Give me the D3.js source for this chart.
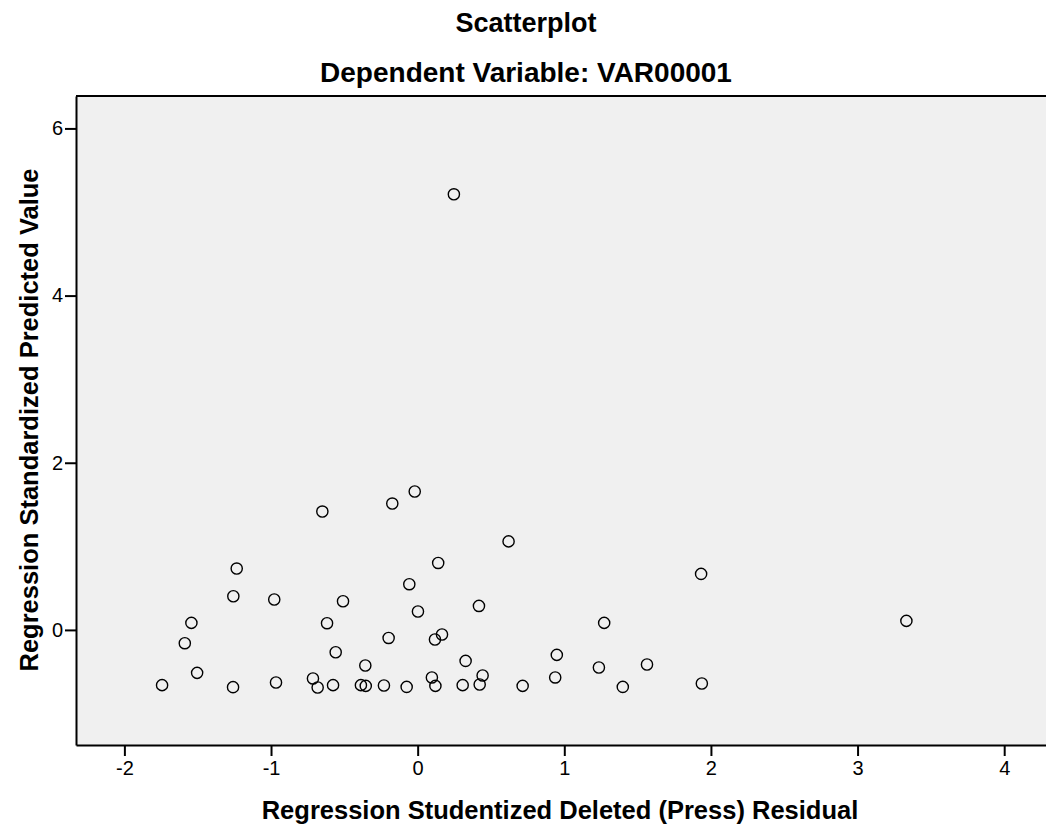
<!DOCTYPE html>
<html lang="en">
<head>
    <meta charset="UTF-8">
    <title>Scatterplot</title>
    <script src="https://d3js.org/d3.v7.min.js"></script>
    <style>
        body {
            margin: 0;
            background: #fff;
            font-family: Arial, "Liberation Sans", sans-serif;
        }
        svg { display: block; }
        .title { font-size: 27px; font-weight: bold; }
        .title.sub { font-size: 28px; }
        .axis-label { font-size: 25.5px; font-weight: bold; }
        .tick text { font-size: 20px; font-family: Arial, "Liberation Sans", sans-serif; fill: #000; }
        .dot { fill: none; stroke: #000; stroke-width: 1.4; }
    </style>
</head>
<body>
    <svg id="chart"></svg>
    <script>
        // residuals (x) and predicted values (y)
        const residuals = [
            -1.743, -1.588, -1.543, -1.504, -1.259, -1.257, -1.234, -0.978, -0.966, -0.714,
            -0.682, -0.650, -0.618, -0.577, -0.559, -0.509, -0.387, -0.357, -0.354, -0.230,
            -0.198, -0.173, -0.075, -0.057, -0.020, 0.002, 0.097, 0.118, 0.121, 0.140,
            0.166, 0.247, 0.307, 0.327, 0.418, 0.423, 0.443, 0.620, 0.716, 0.938,
            0.949, 1.236, 1.272, 1.399, 1.564, 1.933, 1.938, 3.333
        ];
        const predicted = [
            -0.661, -0.159, 0.084, -0.514, -0.685, 0.403, 0.734, 0.364, -0.629, -0.581,
            -0.689, 1.416, 0.080, -0.661, -0.267, 0.343, -0.661, -0.426, -0.670, -0.665,
            -0.096, 1.512, -0.682, 0.547, 1.656, 0.220, -0.569, -0.115, -0.670, 0.801,
            -0.055, 5.212, -0.661, -0.371, 0.287, -0.653, -0.545, 1.059, -0.670, -0.569,
            -0.299, -0.450, 0.084, -0.682, -0.414, 0.670, -0.641, 0.108
        ];
        const xTicks = [-2, -1, 0, 1, 2, 3, 4];
        const yTicks = [0, 2, 4, 6];

        const width = 1046, height = 825;
        const plotLeft = 76, plotTop = 96, plotRight = 1052, plotBottom = 745;

        const svg = d3.select("#chart")
            .attr("width", width)
            .attr("height", height);

        const x = d3.scaleLinear().domain([-2.33, 4.326]).range([plotLeft, plotRight]);
        const y = d3.scaleLinear().domain([-1.377, 6.388]).range([plotBottom, plotTop]);

        svg.append("rect")
            .attr("x", plotLeft).attr("y", plotTop)
            .attr("width", plotRight - plotLeft).attr("height", plotBottom - plotTop)
            .attr("fill", "#f0f0f0");

        // top border
        svg.append("line")
            .attr("x1", plotLeft).attr("x2", plotRight)
            .attr("y1", plotTop).attr("y2", plotTop)
            .attr("stroke", "#000").attr("stroke-width", 2);

        const xAxis = svg.append("g")
            .attr("transform", `translate(0,${plotBottom})`)
            .call(d3.axisBottom(x).tickValues(xTicks).tickSize(11).tickSizeOuter(0).tickPadding(5));
        const yAxis = svg.append("g")
            .attr("transform", `translate(${plotLeft},0)`)
            .call(d3.axisLeft(y).tickValues(yTicks).tickSize(11).tickSizeOuter(0).tickPadding(2));

        [xAxis, yAxis].forEach(a => {
            a.select(".domain").attr("stroke", "#000").attr("stroke-width", 2);
            a.selectAll(".tick line").attr("stroke", "#000").attr("stroke-width", 2);
        });
        // plain hyphen minus like the original
        svg.selectAll(".tick text").text(d => String(d));

        svg.selectAll(".dot")
            .data(residuals.map((r, i) => [r, predicted[i]]))
            .enter().append("circle")
            .attr("class", "dot")
            .attr("cx", d => x(d[0]))
            .attr("cy", d => y(d[1]))
            .attr("r", 5.6);

        svg.append("text").attr("class", "title")
            .attr("x", 526).attr("y", 32)
            .attr("text-anchor", "middle")
            .text("Scatterplot");
        svg.append("text").attr("class", "title sub")
            .attr("x", 526).attr("y", 82)
            .attr("text-anchor", "middle")
            .text("Dependent Variable: VAR00001");

        svg.append("text").attr("class", "axis-label")
            .attr("x", 560).attr("y", 819)
            .attr("text-anchor", "middle")
            .text("Regression Studentized Deleted (Press) Residual");
        svg.append("text").attr("class", "axis-label")
            .attr("transform", "translate(38,420) rotate(-90)")
            .attr("text-anchor", "middle")
            .text("Regression Standardized Predicted Value");
    </script>
</body>
</html>
